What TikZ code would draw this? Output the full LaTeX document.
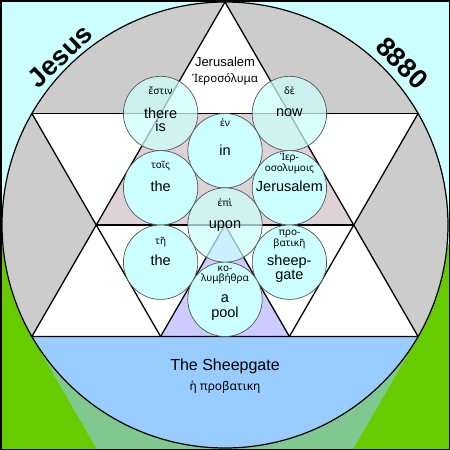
\documentclass[tikz,border=0pt]{standalone}
\usepackage{fontspec}
\setmainfont{Liberation Sans}
\newfontfamily\gr{Noto Sans}
\definecolor{bg}{HTML}{CCFFFF}
\definecolor{gry}{HTML}{CCCCCC}
\definecolor{grn}{HTML}{66CC00}
\definecolor{blu}{HTML}{99CCFF}
\definecolor{lav}{HTML}{CCCCFF}
\definecolor{dith}{HTML}{80C890}
\definecolor{hatch}{RGB}{222,210,214}
\definecolor{cedge}{HTML}{555555}
\begin{document}
\begin{tikzpicture}[x=1pt,y=-1pt,
  tri/.style={draw=black,line width=1.3pt,line join=miter},
  wc/.style={circle,draw=cedge,fill=bg,minimum size=74.4pt,inner sep=0pt,line width=0.7pt},
  wct/.style={wc,fill opacity=0.72},
  en/.style={font=\fontsize{14.5}{14.5}\selectfont,inner sep=0pt,anchor=base},
  gk/.style={font=\gr\fontsize{10}{10}\selectfont,inner sep=0pt,anchor=base},
  big/.style={font=\bfseries\fontsize{27}{27}\selectfont,inner sep=0pt}]
\useasboundingbox (0,0) rectangle (450,450);
% background
\fill[bg] (0,0) rectangle (450,450);
% bottom green regions
\fill[dith] (31.9,336.5) -- (97.4,450) -- (352.6,450) -- (418.1,336.5) -- cycle;
\fill[grn] (0,240) -- (31.9,336.5) -- (97.4,450) -- (0,450) -- cycle;
\fill[grn] (450,240) -- (418.1,336.5) -- (352.6,450) -- (450,450) -- cycle;
% main circle
\fill[gry] (225,225) circle (223pt);
% hexagram white
\fill[white] (225,2) -- (31.9,336.5) -- (418.1,336.5) -- cycle;
\fill[white] (31.9,113.5) -- (418.1,113.5) -- (225,448) -- cycle;
% hatched upper half of hexagon
\fill[hatch] (160.6,113.5) -- (289.4,113.5) -- (353.7,225) -- (96.3,225) -- cycle;
% lavender triangle
\fill[lav] (160.6,336.5) -- (289.4,336.5) -- (225,225) -- cycle;
% blue segment
\begin{scope}
\clip (0,336.5) rectangle (450,450);
\fill[blu] (225,225) circle (223pt);
\end{scope}
% lines
\draw[tri] (225,2) -- (31.9,336.5) -- (418.1,336.5) -- cycle;
\draw[tri] (31.9,113.5) -- (418.1,113.5);
\draw[tri] (31.9,113.5) -- (160.6,336.5);
\draw[tri] (418.1,113.5) -- (289.4,336.5);
\draw[tri] (96.3,225) -- (353.7,225);
\draw[tri] (160.6,336.5) -- (225,225) -- (289.4,336.5);
\draw[black,line width=1.2pt] (225,225) circle (223pt);
% word circles
\node[wct] (c1) at (160.6,113.5) {};
\node[wct] (c2) at (289.4,113.5) {};
\node[wc]  (c3) at (225,150.7) {};
\node[wc]  (c4) at (160.6,187.8) {};
\node[wc]  (c5) at (289.4,187.8) {};
\node[wct] (c6) at (225,225) {};
\node[wc]  (c7) at (160.6,262.2) {};
\node[wc]  (c8) at (289.4,262.2) {};
\node[wc]  (c9) at (225,299.3) {};
% texts in circles
\node[gk] (g1) at (160.6,94.3) {ἔστιν};
\node[en] (e1a) at (160.6,118.3) {there};
\node[en] (e1b) at (160.6,131.7) {is};
\node[gk] (g2) at (289.4,94.3) {δὲ};
\node[en] (e2) at (289.4,116.7) {now};
\node[gk] (g3) at (225,126) {ἐν};
\node[en] (e3) at (225,155) {in};
\node[gk] (g4) at (160.6,168.3) {τοῖς};
\node[en] (e4) at (160.6,191.7) {the};
\node[gk] (g5a) at (289.4,160.7) {Ἱερ-};
\node[gk] (g5b) at (289.4,171.7) {οσολυμοις};
\node[en] (e5) at (289.4,191.7) {Jerusalem};
\node[gk] (g6) at (225,206) {ἐπὶ};
\node[en] (e6) at (225,228.3) {upon};
\node[gk] (g7) at (160.6,244) {τῆ};
\node[en] (e7) at (160.6,265) {the};
\node[gk] (g8a) at (289.4,235) {προ-};
\node[gk] (g8b) at (289.4,246) {βατικῆ};
\node[en] (e8a) at (289.4,265) {sheep-};
\node[en] (e8b) at (289.4,279.3) {gate};
\node[gk] (g9a) at (225,271) {κο-};
\node[gk] (g9b) at (225,281) {λυμβήθρα};
\node[en] (e9a) at (225,302.3) {a};
\node[en] (e9b) at (225,317.3) {pool};
% top and bottom labels
\node[en,font=\fontsize{13}{13}\selectfont] (jt) at (225,66) {Jerusalem};
\node[gk,font=\gr\fontsize{11.5}{11.5}\selectfont] (jg) at (225,82.7) {Ἱεροσόλυμα};
\node[en,font=\fontsize{16}{16}\selectfont] (sg) at (225,370) {The Sheepgate};
\node[gk,font=\gr\fontsize{12}{12}\selectfont] (sgg) at (225,390) {ἡ προβατικη};
% corner words
\node[big,rotate=44] (jesus) at (60,56) {Jesus};
\node[big,rotate=-45] (num) at (402,63) {8880};
% frame
\draw[black,line width=1.5pt] (0.75,0.75) rectangle (449.25,449.25);
\end{tikzpicture}
\end{document}
